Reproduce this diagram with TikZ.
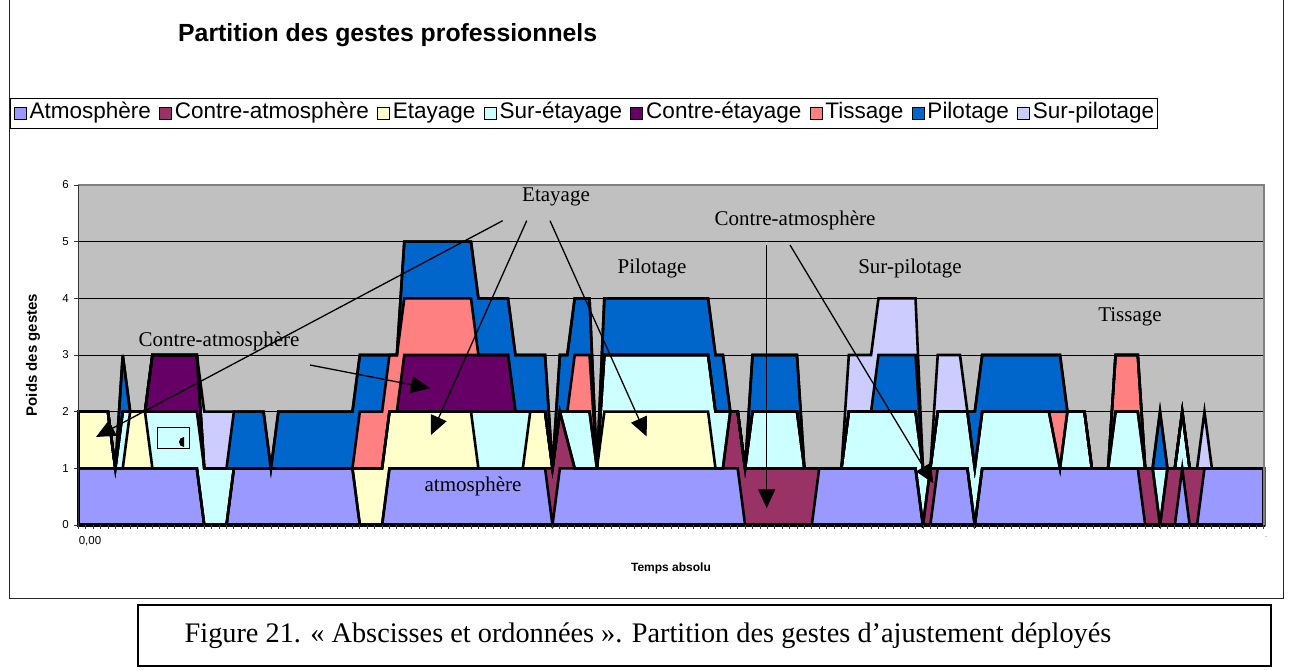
\documentclass[tikz,border=0pt]{standalone}
\usepackage{fontspec}
\setmainfont{Liberation Serif}
\newfontfamily\arialfont{Liberation Sans}
\usetikzlibrary{arrows.meta,positioning}
\definecolor{c1}{HTML}{9999FF}
\definecolor{c2}{HTML}{993366}
\definecolor{c3}{HTML}{FFFFCC}
\definecolor{c4}{HTML}{CCFFFF}
\definecolor{c5}{HTML}{660066}
\definecolor{c6}{HTML}{FF8080}
\definecolor{c7}{HTML}{0066CC}
\definecolor{c8}{HTML}{CCCCFF}
\definecolor{plotbg}{HTML}{C0C0C0}
\definecolor{plotborder}{HTML}{808080}
\def\chXo{78.3}
\def\chDx{7.409}
\def\chYo{525}
\def\chDy{56.667}
\def\chXe{1263.74}
% index / Atm / Contre-atm / Etayage / Sur-etayage / Contre-etayage / Tissage / Pilotage / Sur-pilotage
\def\chartdata{0/1/0/1/0/0/0/0/0,
4/1/0/1/0/0/0/0/0,
5/1/0/0/0/0/0/0/0,
6/1/0/0/1/0/0/1/0,
7/1/0/1/0/0/0/0/0,
9/1/0/1/0/0/0/0/0,
10/1/0/0/1/1/0/0/0,
16/1/0/0/1/1/0/0/0,
17/0/0/0/1/0/0/0/1,
20/0/0/0/1/0/0/0/1,
21/1/0/0/0/0/0/1/0,
25/1/0/0/0/0/0/1/0,
26/1/0/0/0/0/0/0/0,
27/1/0/0/0/0/0/1/0,
37/1/0/0/0/0/0/1/0,
38/0/0/1/0/0/1/1/0,
41/0/0/1/0/0/1/1/0,
42/1/0/1/0/0/1/0/0,
43/1/0/1/0/0/1/0/0,
44/1/0/1/0/1/1/1/0,
53/1/0/1/0/1/1/1/0,
54/1/0/0/1/1/0/1/0,
58/1/0/0/1/1/0/1/0,
59/1/0/0/1/0/0/1/0,
60/1/0/0/1/0/0/1/0,
61/1/0/1/0/0/0/1/0,
63/1/0/1/0/0/0/1/0,
64/0/1/0/0/0/0/0/0,
65/1/1/0/0/0/0/1/0,
66/1/0.5/0/0.5/0/0/1/0,
67/1/0/0/1/0/1/1/0,
69/1/0/0/1/0/1/1/0,
70/1/0/0/0/0/0/0/0,
71/1/0/1/1/0/0/1/0,
85/1/0/1/1/0/0/1/0,
86/1/0/0/1/0/0/1/0,
87/1/0/0/1/0/0/1/0,
88/1/1/0/0/0/0/0/0,
89/1/1/0/0/0/0/0/0,
90/0/1/0/0/0/0/0/0,
91/0/1/0/1/0/0/1/0,
97/0/1/0/1/0/0/1/0,
98/0/1/0/0/0/0/0/0,
99/0/1/0/0/0/0/0/0,
100/1/0/0/0/0/0/0/0,
103/1/0/0/0/0/0/0/0,
104/1/0/0/1/0/0/0/1,
107/1/0/0/1/0/0/0/1,
108/1/0/0/1/0/0/1/1,
113/1/0/0/1/0/0/1/1,
114/0/0/0/1/0/0/0/0,
115/0/1/0/0/0/0/0/0,
116/1/0/0/1/0/0/0/1,
119/1/0/0/1/0/0/0/1,
120/1/0/0/1/0/0/0/0,
121/0/0/0/1/0/0/1/0,
122/1/0/0/1/0/0/1/0,
131/1/0/0/1/0/0/1/0,
132.5/1/0/0/0/0/1/1/0,
133.5/1/0/0/1/0/0/0/0,
135.8/1/0/0/1/0/0/0/0,
136.8/1/0/0/0/0/0/0/0,
139/1/0/0/0/0/0/0/0,
140/1/0/0/1/0/1/0/0,
143/1/0/0/1/0/1/0/0,
144/0/1/0/0/0/0/0/0,
145/0/1/0/0/0/0/0/0,
146/0/0/0/1/0/0/1/0,
147/0/1/0/0/0/0/0/0,
148/0/1/0/0/0/0/0/0,
149/1/0/0/1/0/0/0/0,
150/0/1/0/0/0/0/0/0,
151/0/1/0/0/0/0/0/0,
152/1/0/0/0/0/0/0/1,
153/1/0/0/0/0/0/0/0,
160/1/0/0/0/0/0/0/0}
\tikzset{
  arealine/.style={line width=2.6pt, line join=miter, draw=black},
  gridline/.style={line width=0.9pt, draw=black},
  arr/.style={line width=1.3pt, draw=black, -{Triangle[length=19pt,width=17pt]}},
  annot/.style={font=\fontsize{21}{24}\selectfont, inner sep=0pt},
  legsq/.style={draw=black, line width=0.7pt, minimum size=12pt, inner sep=0pt},
  legtxt/.style={font=\arialfont\fontsize{22.5}{26}\selectfont, inner sep=0pt},
  ticklbl/.style={font=\arialfont\fontsize{11.5}{13}\selectfont, inner sep=0pt},
}
\begin{document}
\begin{tikzpicture}[x=1pt,y=-1pt]
\useasboundingbox (0,0) rectangle (1296,671);
\fill[white] (0,0) rectangle (1296,671);
% chart area frame
\draw[line width=1pt, black!85] (9.5,-5) rectangle (1283.5,598);
% title
\node[anchor=west, inner sep=0pt, font=\arialfont\bfseries\fontsize{24.8}{28}\selectfont] (title) at (178,35) {Partition des gestes professionnels};
% legend
\draw[line width=0.8pt] (10,98) rectangle (1157,128);
\node[legsq, fill=c1] (lsq1) at (20,113) {};
\node[legtxt, right=3pt of lsq1] (ltx1) {Atmosphère};
\node[legsq, fill=c2, right=8pt of ltx1] (lsq2) {};
\node[legtxt, right=3pt of lsq2] (ltx2) {Contre-atmosphère};
\node[legsq, fill=c3, right=8pt of ltx2] (lsq3) {};
\node[legtxt, right=3pt of lsq3] (ltx3) {Etayage};
\node[legsq, fill=c4, right=8pt of ltx3] (lsq4) {};
\node[legtxt, right=3pt of lsq4] (ltx4) {Sur-étayage};
\node[legsq, fill=c5, right=8pt of ltx4] (lsq5) {};
\node[legtxt, right=3pt of lsq5] (ltx5) {Contre-étayage};
\node[legsq, fill=c6, right=8pt of ltx5] (lsq6) {};
\node[legtxt, right=3pt of lsq6] (ltx6) {Tissage};
\node[legsq, fill=c7, right=8pt of ltx6] (lsq7) {};
\node[legtxt, right=3pt of lsq7] (ltx7) {Pilotage};
\node[legsq, fill=c8, right=8pt of ltx7] (lsq8) {};
\node[legtxt, right=3pt of lsq8] (ltx8) {Sur-pilotage};
% plot area
\fill[plotbg] (\chXo,185) rectangle (\chXe,\chYo);
\foreach \l in {1,...,5}{
  \draw[gridline] (\chXo,{\chYo-\chDy*\l}) -- (\chXe,{\chYo-\chDy*\l});
}
% stacked areas: fills
\foreach \k in {8,7,...,1}{
  \fill[fill=c\k] (\chXo,\chYo)
    \foreach \pI/\pA/\pB/\pC/\pD/\pE/\pF/\pG/\pH in \chartdata {
      -- ({\chXo+\chDx*\pI},{\chYo-\chDy*(\pA+(\k>1)*\pB+(\k>2)*\pC+(\k>3)*\pD+(\k>4)*\pE+(\k>5)*\pF+(\k>6)*\pG+(\k>7)*\pH)})
    } -- (\chXe,\chYo) -- cycle;
}
% stacked areas: outlines, clipped to the plot area
\begin{scope}
\clip (76,183) rectangle (1266,527.3);
\foreach \k in {1,...,8}{
  \draw[arealine] (\chXo,\chYo)
    \foreach \pI/\pA/\pB/\pC/\pD/\pE/\pF/\pG/\pH in \chartdata {
      -- ({\chXo+\chDx*\pI},{\chYo-\chDy*(\pA+(\k>1)*\pB+(\k>2)*\pC+(\k>3)*\pD+(\k>4)*\pE+(\k>5)*\pF+(\k>6)*\pG+(\k>7)*\pH)})
    } -- (\chXe,\chYo) -- cycle;
}
\end{scope}
% plot border and axes
\draw[plotborder, line width=1.6pt] (\chXo,185) -- (\chXe,185) -- (\chXe,\chYo);
\draw[line width=1pt, black!80] (\chXo,185) -- (\chXo,\chYo);
\foreach \l in {0,...,6}{
  \draw[line width=0.9pt, black!80] (74,{\chYo-\chDy*\l}) -- (\chXo,{\chYo-\chDy*\l});
  \node[ticklbl, anchor=east] (yl\l) at (69,{\chYo-\chDy*\l}) {\l};
}
\foreach \t in {0,...,160}{
  \draw[line width=0.8pt, black!75] ({\chXo+\chDx*\t},\chYo) -- ++(0,4);
}
\node[ticklbl] (x0lbl) at (90,541) {0,00};
\node[font=\arialfont\fontsize{6}{6}\selectfont, inner sep=0pt, text=black!60] (xendlbl) at (1266,538) {-};
\node[rotate=90, font=\arialfont\bfseries\fontsize{15}{17}\selectfont, inner sep=0pt] (ytitle) at (33,355) {Poids des gestes};
\node[font=\arialfont\bfseries\fontsize{12}{14}\selectfont, inner sep=0pt] (xtitle) at (671,568) {Temps absolu};
% small embedded frame
\draw[line width=1.5pt] (157.5,427.5) rectangle (189.5,448.5);
\fill (184,437) arc[start angle=-90, delta angle=-180, radius=5] -- cycle;
% annotations
\node[annot] (lEtayage) at (556,197) {Etayage};
\node[annot] (lPilotage) at (652,268) {Pilotage};
\node[annot] (lCAtop) at (795,220) {Contre-atmosphère};
\node[annot] (lSurPil) at (910,268) {Sur-pilotage};
\node[annot] (lTissage) at (1130,317) {Tissage};
\node[annot] (lCAleft) at (219,341) {Contre-atmosphère};
\node[annot] (lAtm) at (473,486) {atmosphère};
% arrows
\coordinate (a1s) at (502.7,220.7); \coordinate (a1t) at (96,437);
\coordinate (a2s) at (526.7,220.7); \coordinate (a2t) at (431,435);
\coordinate (a3s) at (550,220.7);   \coordinate (a3t) at (646.7,436.5);
\coordinate (a4s) at (310,365);     \coordinate (a4t) at (430,388.3);
\coordinate (a5s) at (766.7,245);   \coordinate (a5t) at (766.7,508.3);
\coordinate (a6s) at (790,245);     \coordinate (a6t) at (933.3,483.3);
\draw[arr] (a1s) -- (a1t);
\draw[arr] (a2s) -- (a2t);
\draw[arr] (a3s) -- (a3t);
\draw[arr] (a4s) -- (a4t);
\draw[arr] (a5s) -- (a5t);
\draw[arr] (a6s) -- (a6t);
% caption
\draw[line width=1.2pt] (138,605) rectangle (1271,666);
\node[font=\fontsize{28.3}{32}\selectfont, inner sep=0pt] (caption) at (648,636) {Figure 21. « Abscisses et ordonnées ». Partition des gestes d’ajustement déployés};
\end{tikzpicture}
\end{document}
